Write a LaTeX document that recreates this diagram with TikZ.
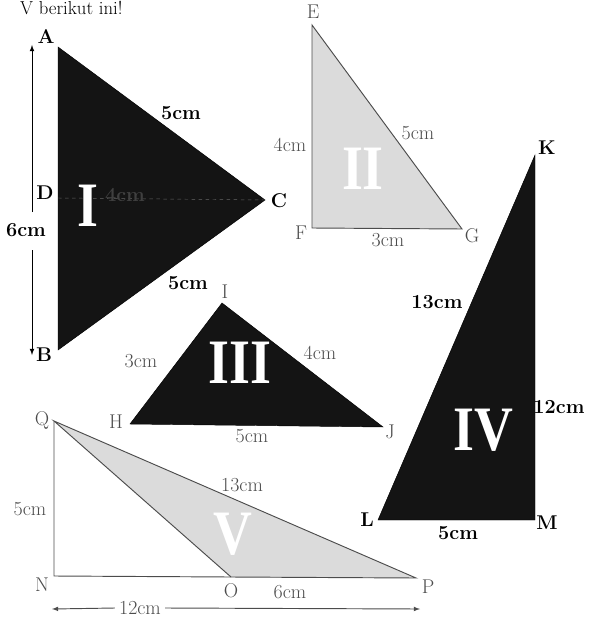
\documentclass[tikz,border=0pt]{standalone}
\usepackage{fontspec}
\newfontfamily\numfont{Liberation Serif}
\usepackage{tikz}
\begin{document}
\begin{tikzpicture}[x=0.03cm, y=-0.03cm, >=latex,
  blbl/.style={font=\fontsize{17}{19}\selectfont\bfseries},
  glbl/.style={font=\fontsize{17}{19}\selectfont, text=black!70},
  roman/.style={font=\numfont\fontsize{54}{54}\selectfont\bfseries, text=white, xscale=0.85},
  darktri/.style={fill=black!92, draw=black},
  lighttri/.style={fill=gray!28, draw=black!70, thick}]
  \useasboundingbox (0,0) rectangle (600,621);

  %% heading line, cut at the top
  \node[font=\fontsize{16}{18}\selectfont, anchor=base west, inner sep=0pt] (head) at (20,15) {V berikut ini!};

  %% Triangle I
  \coordinate (A) at (58,47);
  \coordinate (B) at (58,350);
  \coordinate (C) at (265,200);
  \coordinate (D) at (58,198);
  \fill[darktri] (A) -- (B) -- (C) -- cycle;
  \draw[dashed, black!60] (D) -- (C);
  \node[blbl, text=black!75] (dc) at (125,195) {4cm};
  \node[roman] (r1) at (88,206) {I};
  \node[blbl] (lA) at (46,37) {A};
  \node[blbl] (lB) at (44,355) {B};
  \node[blbl] (lC) at (279,201) {C};
  \node[blbl] (lD) at (45,193) {D};
  \node[blbl] (ac) at (181,113) {5cm};
  \node[blbl] (bc) at (188,283) {5cm};
  \node[blbl, inner sep=1pt] (ab) at (26,230) {6cm};
  \coordinate (abT) at (32,45);
  \coordinate (abB) at (32,355);
  \draw[->, thick] (32,212) -- (abT);
  \draw[->, thick] (32,250) -- (abB);

  %% Triangle II
  \coordinate (E) at (312,25);
  \coordinate (F) at (312,228);
  \coordinate (G) at (462,229);
  \filldraw[lighttri] (E) -- (F) -- (G) -- cycle;
  \node[roman] (r2) at (363,169) {II};
  \node[glbl] (lE) at (313,12) {E};
  \node[glbl] (lF) at (301,233) {F};
  \node[glbl] (lG) at (472,236) {G};
  \node[glbl] (ef) at (290,145) {4cm};
  \node[glbl] (eg) at (418,133) {5cm};
  \node[glbl] (fg) at (388,240) {3cm};

  %% Triangle III
  \coordinate (I) at (222,303);
  \coordinate (H) at (130,424);
  \coordinate (J) at (383,427);
  \fill[darktri] (I) -- (H) -- (J) -- cycle;
  \node[roman] (r3) at (240,363) {III};
  \node[glbl] (lI) at (225,292) {I};
  \node[glbl] (lH) at (116,422) {H};
  \node[glbl] (lJ) at (390,432) {J};
  \node[glbl] (hi) at (141,361) {3cm};
  \node[glbl] (ij) at (320,353) {4cm};
  \node[glbl] (hj) at (252,436) {5cm};

  %% Triangle IV
  \coordinate (K) at (535,155);
  \coordinate (L) at (378,520);
  \coordinate (M) at (535,520);
  \fill[darktri] (K) -- (L) -- (M) -- cycle;
  \node[roman] (r4) at (483,430) {IV};
  \node[blbl] (lK) at (547,148) {K};
  \node[blbl] (lL) at (367,520) {L};
  \node[blbl] (lM) at (547,523) {M};
  \node[blbl] (kl) at (437,302) {13cm};
  \node[blbl] (km) at (559,407) {12cm};
  \node[blbl] (lm) at (458,533) {5cm};

  %% Triangle V
  \coordinate (Q) at (54,421);
  \coordinate (N) at (54,576);
  \coordinate (O) at (231,577);
  \coordinate (P) at (416,578);
  \draw[black!70, thick] (Q) -- (N) -- (O);
  \filldraw[lighttri] (Q) -- (O) -- (P) -- cycle;
  \node[roman] (r5) at (233,534) {V};
  \node[glbl] (lQ) at (42,420) {Q};
  \node[glbl] (lN) at (42,585) {N};
  \node[glbl] (lO) at (231,591) {O};
  \node[glbl] (lP) at (428,587) {P};
  \node[glbl] (qn) at (30,509) {5cm};
  \node[glbl] (qp) at (242,485) {13cm};
  \node[glbl] (op) at (290,592) {6cm};
  \node[glbl] (np) at (140,608) {12cm};
  \coordinate (npL) at (52,609);
  \coordinate (npR) at (420,609);
  \draw[->, black!70, thick] (np.west) -- (npL);
  \draw[->, black!70, thick] (np.east) -- (npR);
\end{tikzpicture}
\end{document}
